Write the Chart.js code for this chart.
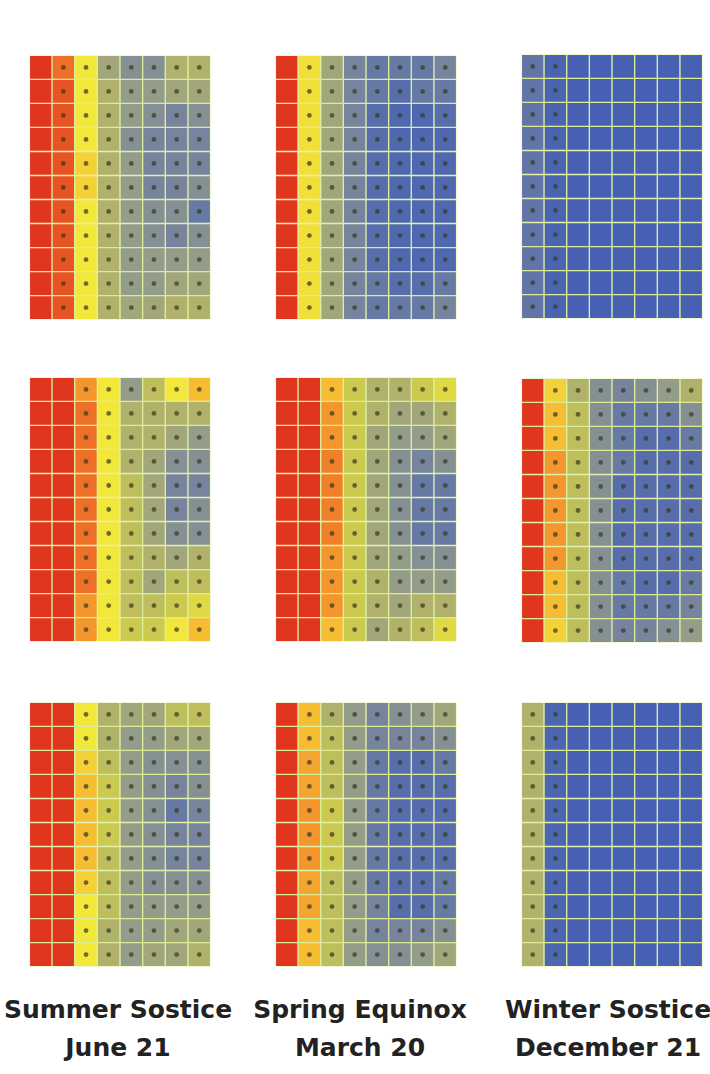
<!DOCTYPE html>
<html><head><meta charset="utf-8">
<script src="https://cdn.jsdelivr.net/npm/chart.js@4/dist/chart.umd.min.js"></script>
<style>
html,body{margin:0;padding:0;background:#fff;width:710px;height:1074px;overflow:hidden;position:relative;}
.panel{position:absolute;width:186px;height:269px;}
.lbl{position:absolute;font-family:"DejaVu Sans",sans-serif;font-weight:bold;font-size:25px;color:#222;text-align:center;line-height:38px;white-space:nowrap;transform:translateX(-50%);}
</style></head><body>
<div class="panel" style="left:27px;top:53px"><canvas id="p00"></canvas></div>
<div class="panel" style="left:273px;top:53px"><canvas id="p01"></canvas></div>
<div class="panel" style="left:519px;top:52px"><canvas id="p02"></canvas></div>
<div class="panel" style="left:27px;top:375px"><canvas id="p10"></canvas></div>
<div class="panel" style="left:273px;top:375px"><canvas id="p11"></canvas></div>
<div class="panel" style="left:519px;top:376px"><canvas id="p12"></canvas></div>
<div class="panel" style="left:27px;top:700px"><canvas id="p20"></canvas></div>
<div class="panel" style="left:273px;top:700px"><canvas id="p21"></canvas></div>
<div class="panel" style="left:519px;top:700px"><canvas id="p22"></canvas></div>
<div class="lbl" style="left:118px;top:991px">Summer Sostice<br>June 21</div>
<div class="lbl" style="left:360px;top:991px">Spring Equinox<br>March 20</div>
<div class="lbl" style="left:608px;top:991px">Winter Sostice<br>December 21</div>
<script>
// Heat levels 0 (cool/blue) .. 10 (hot/red); rows top->bottom, 8 columns each
const columns = ['1','2','3','4','5','6','7','8'];
const seasons = ['Summer Sostice June 21','Spring Equinox March 20','Winter Sostice December 21'];

const summerTop = [
 [10,9,7,4.5,3.5,3.5,5,5],
 [10,9.5,7,5,4,4,4.5,4.5],
 [10,9.5,7,5,4,3.5,3,3.5],
 [10,9.5,7,5,3.5,3,3,3],
 [10,9.5,7.5,5,4,3,3,3],
 [10,9.5,7.5,5,4,3,3,3.5],
 [10,9.5,7,5,4,3.5,3.5,2.5],
 [10,9.5,7,5,4,3.5,3,3.5],
 [10,9.5,7,5,4,4,4,4],
 [10,9.5,7,5,4,4,4.5,4.5],
 [10,9.5,7,5,4.5,4.5,5,5]
];
const springTop = [
 [10,7.2,4.5,3,2.5,2.5,2.5,3],
 [10,7.2,4.5,3,2.5,2,2.5,2.5],
 [10,7.2,4.5,3,2,1.5,1.5,2],
 [10,7.2,4.5,3,2,1.5,1.5,1.5],
 [10,7.2,4.5,3,2,1.5,1.5,1.5],
 [10,7.2,4.5,3,2,1.5,1.5,1.5],
 [10,7.2,4.5,3,2,1.5,1.5,1.5],
 [10,7.2,4.5,3,2,1.5,1.5,1.5],
 [10,7.2,4.5,3,2,1.5,1.5,1.5],
 [10,7.2,4.5,3,2.5,2,2,2.5],
 [10,7.2,4.5,3,2.5,2.5,2.5,3]
];
const winterTop = [
 [2.3,1.2,0.8,0.8,0.8,0.8,0.8,0.8],
 [2.3,1.2,0.8,0.8,0.8,0.8,0.8,0.8],
 [2.3,1.2,0.8,0.8,0.8,0.8,0.8,0.8],
 [2.3,1.2,0.8,0.8,0.8,0.8,0.8,0.8],
 [2.3,1.2,0.8,0.8,0.8,0.8,0.8,0.8],
 [2.3,1.2,0.8,0.8,0.8,0.8,0.8,0.8],
 [2.3,1.2,0.8,0.8,0.8,0.8,0.8,0.8],
 [2.3,1.2,0.8,0.8,0.8,0.8,0.8,0.8],
 [2.3,1.2,0.8,0.8,0.8,0.8,0.8,0.8],
 [2.3,1.2,0.8,0.8,0.8,0.8,0.8,0.8],
 [2.3,1.2,0.8,0.8,0.8,0.8,0.8,0.8]
];
const summerMid = [
 [10,10,8.5,7,4,5.5,7,8],
 [10,10,9,7,5,5,5,5],
 [10,10,9,7,5,5,4.5,4],
 [10,10,9,7,5,4.5,3.5,3.5],
 [10,10,9,7,5.5,4.5,3,3],
 [10,10,9,7,5.5,4.5,3,3.5],
 [10,10,9,7,5.5,4.5,3.5,3.5],
 [10,10,9,7,5.5,5,4.5,5],
 [10,10,9,7,5.5,4.5,5.5,5.5],
 [10,10,8.5,7,5.5,5.5,6,6.5],
 [10,10,8.5,7,6,6,7,8]
];
const springMid = [
 [10,10,8,6,5,5,6,6.5],
 [10,10,8.5,6,5,4.5,4.5,5],
 [10,10,8.5,6,4.5,4,4,4.5],
 [10,10,8.8,6,4.5,3.5,3,3.5],
 [10,10,8.8,6,4.5,3.5,2.5,2.5],
 [10,10,8.8,6,4.5,3.5,2.5,2.5],
 [10,10,8.8,6,4.5,3.5,2.5,2.5],
 [10,10,8.5,6,4.5,4,3.5,3.5],
 [10,10,8.5,6,5,4,4,4],
 [10,10,8.5,6,5,4.5,5,5],
 [10,10,8,6,4.5,5,5.5,6.5]
];
const winterMid = [
 [10,7.5,5,3.5,3,3.5,4,5],
 [10,8,5.5,3.5,2.5,2.5,2.5,3.5],
 [10,8,5.5,3.5,2.5,2,2,2.5],
 [10,8.5,5.5,3.5,2.5,2,2,2],
 [10,8.5,5.5,3.5,2,2,2,2],
 [10,8.5,5.5,3.5,2,2,2,2],
 [10,8.5,5.5,3.5,2,2,2,2],
 [10,8.5,5.5,3.5,2,2,2,2],
 [10,8,5.5,3.5,2.5,2,2,2.5],
 [10,8,5.5,3.5,2.5,2.5,2.5,3],
 [10,7.5,5.5,3.5,3,3,3.5,4]
];
const summerBot = [
 [10,10,7,5,4.5,4.5,5.5,5.5],
 [10,10,7,5,4,4,4.5,4.5],
 [10,10,7.5,5.5,4,3.5,3.5,3.5],
 [10,10,8,6,4,3.5,3,3.5],
 [10,10,8,6,4,3.5,2.5,3],
 [10,10,8,6,4,3.5,3,3],
 [10,10,8,5.5,4,3.5,3,3],
 [10,10,7.5,5.5,4,3.5,3.5,3.5],
 [10,10,7,5.5,4,4,4,4],
 [10,10,7,5,4,4,4.5,4.5],
 [10,10,7,5,4,4.5,4.5,5]
];
const springBot = [
 [10,8,5,4,3,3.5,4,4.5],
 [10,8,5.5,4,3,3,3,3.5],
 [10,8.3,5.5,4,2.5,2,2,2.5],
 [10,8.3,5.5,4,2.5,2,2,2],
 [10,8.5,6,4,2.5,1.8,1.8,1.8],
 [10,8.5,6,4,2.5,2,2,2],
 [10,8.5,6,4,2.5,2,2,2],
 [10,8.3,5.5,4,2.5,2,2,2.5],
 [10,8.3,5.5,4,3,2,2,2.5],
 [10,8,5.5,4,3,3,3,3.5],
 [10,8,5.5,4,3.5,3.5,4,4.5]
];
const winterBot = [
 [5,1.3,0.8,0.8,0.8,0.8,0.8,0.8],
 [5,1.3,0.8,0.8,0.8,0.8,0.8,0.8],
 [5,1.3,0.8,0.8,0.8,0.8,0.8,0.8],
 [5,1.3,0.8,0.8,0.8,0.8,0.8,0.8],
 [5,1.3,0.8,0.8,0.8,0.8,0.8,0.8],
 [5,1.3,0.8,0.8,0.8,0.8,0.8,0.8],
 [5,1.3,0.8,0.8,0.8,0.8,0.8,0.8],
 [5,1.3,0.8,0.8,0.8,0.8,0.8,0.8],
 [5,1.3,0.8,0.8,0.8,0.8,0.8,0.8],
 [5,1.3,0.8,0.8,0.8,0.8,0.8,0.8],
 [5,1.3,0.8,0.8,0.8,0.8,0.8,0.8]
];

// colour ramp (style)
const stops = [
 [0,[62,88,182]],[1,[72,98,180]],[2,[88,110,172]],[3,[118,132,158]],[4,[148,156,138]],
 [5,[176,178,108]],[6,[204,202,78]],[7,[242,232,60]],[8,[246,188,50]],[9,[238,112,40]],[10,[224,54,30]]
];
function heatColor(v){
  for(let i=0;i<stops.length-1;i++){
    const [a,ca]=stops[i],[b,cb]=stops[i+1];
    if(v<=b){const t=(v-a)/(b-a);const c=ca.map((x,k)=>Math.round(x+(cb[k]-x)*t));return `rgb(${c[0]},${c[1]},${c[2]})`;}
  }
  const c=stops[stops.length-1][1];return `rgb(${c[0]},${c[1]},${c[2]})`;
}

function makePanel(id, grid){
  const nRows = grid.length;
  const datasets = grid.map((row)=>({
    type:'bar', data: columns.map(()=>1), backgroundColor: row.map(heatColor),
    borderColor:'rgba(210,232,120,0.65)', borderWidth:1, borderSkipped:false, stack:'cells', order:2
  }));
  const dots = [];
  grid.forEach((row,r)=>row.forEach((v,c)=>{ if(v>=1.1 && v<=9.6) dots.push({x:columns[c], y:r+0.5}); }));
  datasets.push({type:'scatter', data:dots, stack:'dots', pointRadius:2.4, pointHoverRadius:2.4,
    backgroundColor:'rgba(60,58,35,0.72)', borderWidth:0, order:1});
  new Chart(document.getElementById(id), {
    type:'bar',
    data:{labels:columns, datasets},
    options:{
      responsive:true, maintainAspectRatio:false, animation:false,
      layout:{padding:0},
      datasets:{bar:{categoryPercentage:1, barPercentage:1}},
      plugins:{legend:{display:false}, tooltip:{enabled:false}},
      scales:{
        x:{display:false, stacked:true, offset:true},
        y:{display:false, stacked:true, min:0, max:nRows, reverse:true}
      }
    }
  });
}
makePanel('p00', summerTop); makePanel('p01', springTop); makePanel('p02', winterTop);
makePanel('p10', summerMid); makePanel('p11', springMid); makePanel('p12', winterMid);
makePanel('p20', summerBot); makePanel('p21', springBot); makePanel('p22', winterBot);
</script>
</body></html>
